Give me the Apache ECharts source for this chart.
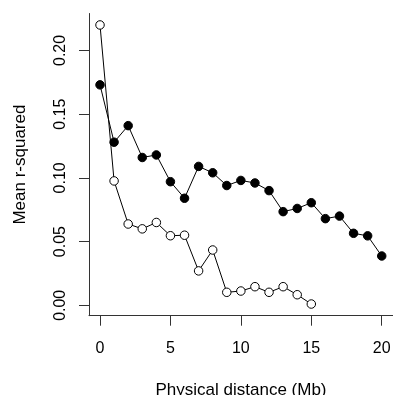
<!DOCTYPE html>
<html lang="en">
<head>
    <meta charset="UTF-8">
    <title>Mean r-squared vs distance</title>
    <script src="https://cdn.jsdelivr.net/npm/echarts@6.0.0/dist/echarts.min.js"></script>
    <style>
        body { margin: 0; background: #fff; }
    </style>
</head>
<body>
    <div id="main" style="width: 393px;height:395px;"></div>
    <script type="text/javascript">
        // distances in Mb
        const distFilled = [0, 1, 2, 3, 4, 5, 6, 7, 8, 9, 10, 11, 12, 13, 14, 15, 16, 17, 18, 19, 20]
        const distOpen = [0, 1, 2, 3, 4, 5, 6, 7, 8, 9, 10, 11, 12, 13, 14, 15]

        // mean r-squared
        const filledValues = [0.173, 0.128, 0.141, 0.116, 0.118, 0.097, 0.084, 0.109, 0.104, 0.094, 0.098,
            0.096, 0.090, 0.0735, 0.076, 0.0805, 0.068, 0.070, 0.0565, 0.0545, 0.0387]
        const openValues = [0.220, 0.0976, 0.0638, 0.060, 0.065, 0.0546, 0.055, 0.027, 0.0434, 0.0102,
            0.0112, 0.0146, 0.0102, 0.0146, 0.0083, 0.001]

        const xTicks = [0, 5, 10, 15, 20]
        const yTicks = [0, 0.05, 0.10, 0.15, 0.20]

        const font = 'Liberation Sans, Arial, Helvetica, sans-serif'
        const axisColor = '#333'

        const pair = (xs, ys) => xs.map((x, i) => [x, ys[i]])

        let options = {
            animation: false,
            // keep the plot box fixed, labels may sit in the margins
            grid: { left: 89, right: 0, top: 13.5, bottom: 79.3, outerBoundsMode: 'none', containLabel: false },
            xAxis: {
                type: 'value',
                min: -0.781,
                max: 20.8,
                name: 'Physical distance (Mb)',
                nameLocation: 'middle',
                nameGap: 66,
                nameTextStyle: { fontFamily: font, fontSize: 17, color: '#000' },
                axisLine: { onZero: false, lineStyle: { color: axisColor, width: 1 } },
                axisTick: { customValues: xTicks, length: 10, lineStyle: { color: axisColor } },
                axisLabel: {
                    customValues: xTicks,
                    margin: 25,
                    fontFamily: font, fontSize: 16, color: '#000'
                },
                splitLine: { show: false }
            },
            yAxis: {
                type: 'value',
                min: -0.00816,
                max: 0.229,
                name: 'Mean r-squared',
                nameLocation: 'middle',
                nameGap: 60,
                nameRotate: 90,
                nameTextStyle: { fontFamily: font, fontSize: 17, color: '#000' },
                axisLine: { show: true, onZero: false, lineStyle: { color: axisColor, width: 1 } },
                axisTick: { show: true, customValues: yTicks, length: 10, lineStyle: { color: axisColor } },
                axisLabel: {
                    customValues: yTicks,
                    rotate: 90,
                    margin: 20,
                    fontFamily: font, fontSize: 16, color: '#000',
                    formatter: v => v.toFixed(2)
                },
                splitLine: { show: false }
            },
            series: [
                {
                    name: 'filled',
                    type: 'line',
                    data: pair(distFilled, filledValues),
                    symbol: 'circle',
                    symbolSize: 8.5,
                    lineStyle: { color: '#000', width: 1 },
                    itemStyle: { color: '#000', borderColor: '#000', borderWidth: 1 }
                },
                {
                    name: 'open',
                    type: 'line',
                    data: pair(distOpen, openValues),
                    symbol: 'circle',
                    symbolSize: 8.5,
                    showAllSymbol: true,
                    lineStyle: { color: '#000', width: 1 },
                    itemStyle: { color: '#fff', borderColor: '#000', borderWidth: 1 }
                }
            ]
        }

        let myChart = echarts.init(document.getElementById('main'))
        myChart.setOption(options)
    </script>
</body>
</html>
